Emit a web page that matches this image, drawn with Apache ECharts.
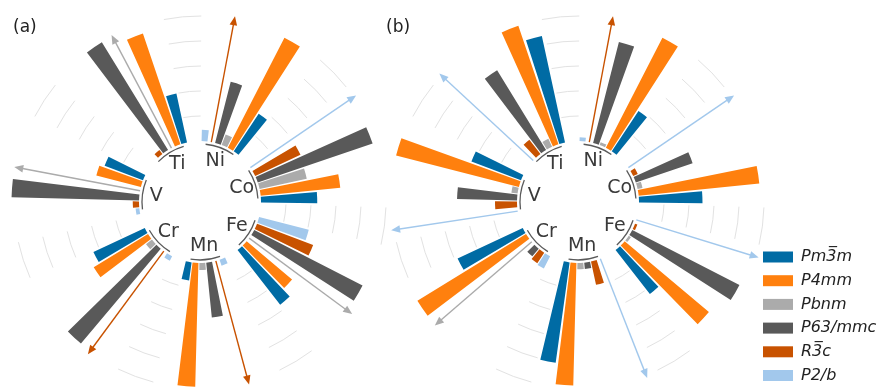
<!DOCTYPE html>
<html>
<head>
<meta charset="utf-8">
<script src="https://cdn.jsdelivr.net/npm/echarts@6/dist/echarts.min.js"></script>
<style>
  html, body { margin: 0; background: #fff; }
  #chart { width: 885px; height: 388px; }
</style>
</head>
<body>
<div id="chart"></div>
<script>
const OFF = 'off'; // value beyond the axis, drawn as an arrow

const elements = ['Ti', 'Ni', 'Co', 'Fe', 'Mn', 'Cr', 'V'];
const phases = ['Pm3\u0305m', 'P4mm', 'Pbnm', 'P63/mmc', 'R3\u0305c', 'P2/b'];
const colors = ['#006BA4', '#FF800E', '#ABABAB', '#595959', '#C85200', '#A2C8EC'];
// clockwise slot of each phase inside an element group (8 slots: 6 bars + 2 empty)
const slotOf = [5, 4, 3, 2, 1, 0];
const gridSteps = [1, 2, 3, 4, 5];

// panel (a), bar length in grid steps
const aPm3m = [2.0, 1.8, 2.25, 2.77, 0.73, 2.27, 1.64];
const aP4mm = [4.68, 4.95, 3.2, 2.37, 4.95, 2.55, 1.84];
const aPbnm = [OFF, 0.45, 1.93, OFF, 0.28, 0.3, OFF];
const aP63 = [5.06, 2.52, 4.85, 4.87, 2.2, 4.96, 5.1];
const aR3c = [0.2, OFF, 2.0, 2.4, OFF, OFF, 0.25];
const aP2b = [0, 0.45, OFF, 2.05, 0.25, 0.2, 0.15];

// panel (b)
const bPm3m = [4.36, 1.93, 2.54, 2.23, 4.05, 2.88, 2.12];
const bP4mm = [5.0, 4.95, 4.85, 4.4, 4.9, 5.1, 5.07];
const bPbnm = [0.35, 0.12, 0.2, 0.1, 0.25, OFF, 0.25];
const bP63 = [3.74, 4.17, 2.4, 4.82, 0.25, 0.4, 2.4];
const bR3c = [0.72, OFF, 0.2, 0.1, 0.95, 0.5, 0.88];
const bP2b = [OFF, 0.15, OFF, OFF, OFF, 0.55, OFF];

const ARROW_TO = 5.12;
const SLOTS = 8;
const N = elements.length * SLOTS;
const STEP = 2 * Math.PI / N;

const chart = echarts.init(document.getElementById('chart'));

function polarAngle(cs, pt) {
    return Math.atan2(pt[1] - cs.cy, pt[0] - cs.cx);
}
function polarDist(cs, pt) {
    return Math.hypot(pt[0] - cs.cx, pt[1] - cs.cy);
}

function panelSeries(polarIndex, values) {
    const out = [];
    const arrows = [];
    phases.forEach((name, p) => {
        const data = new Array(N).fill('-');
        values[p].forEach((v, k) => {
            const slot = k * SLOTS + slotOf[p];
            if (v === OFF) arrows.push([ARROW_TO, slot, p]);
            else data[slot] = v;
        });
        out.push({
            type: 'bar',
            name: name,
            coordinateSystem: 'polar',
            polarIndex: polarIndex,
            data: data,
            barGap: '-100%',
            barCategoryGap: '14%',
            itemStyle: { color: colors[p] },
            z: 3
        });
    });

    // light grid arcs, only in the empty slots between groups
    const gridData = [];
    elements.forEach((e, k) => gridSteps.forEach(g => gridData.push([g, k * SLOTS + 6])));
    out.push({
        type: 'custom',
        coordinateSystem: 'polar',
        polarIndex: polarIndex,
        data: gridData,
        z: 1,
        silent: true,
        renderItem: (params, api) => {
            const cs = params.coordSys;
            const pt = api.coord([api.value(0), api.value(1)]);
            const a = polarAngle(cs, pt);
            return {
                type: 'arc',
                shape: { cx: cs.cx, cy: cs.cy, r: polarDist(cs, pt), startAngle: a - 0.4 * STEP, endAngle: a + 1.4 * STEP, clockwise: true },
                style: { fill: 'none', stroke: '#e2e2e2', lineWidth: 1 }
            };
        }
    });

    // base arcs and element labels
    out.push({
        type: 'custom',
        coordinateSystem: 'polar',
        polarIndex: polarIndex,
        data: elements.map((e, k) => [0, k * SLOTS]),
        z: 4,
        silent: true,
        renderItem: (params, api) => {
            const cs = params.coordSys;
            const pt = api.coord([api.value(0), api.value(1)]);
            const a = polarAngle(cs, pt);
            const r0 = polarDist(cs, pt);
            const mid = a + 2.5 * STEP;
            const rl = r0 - 17;
            return {
                type: 'group',
                children: [
                    {
                        type: 'arc',
                        shape: { cx: cs.cx, cy: cs.cy, r: r0 - 3, startAngle: a + 0.2 * STEP, endAngle: a + 4.8 * STEP, clockwise: true },
                        style: { fill: 'none', stroke: '#5a5a5a', lineWidth: 1.3 }
                    },
                    {
                        type: 'text',
                        x: cs.cx + rl * Math.cos(mid),
                        y: cs.cy + rl * Math.sin(mid),
                        style: {
                            text: elements[params.dataIndex],
                            fill: '#3a3a3a',
                            font: '19px "DejaVu Sans"',
                            align: 'center',
                            verticalAlign: 'middle'
                        }
                    }
                ]
            };
        }
    });

    // off-scale values as arrows
    out.push({
        type: 'custom',
        coordinateSystem: 'polar',
        polarIndex: polarIndex,
        data: arrows,
        z: 3,
        silent: true,
        renderItem: (params, api) => {
            const slot = api.value(1);
            const col = colors[api.value(2)];
            const p0 = api.coord([0, slot]);
            const p1 = api.coord([api.value(0), slot]);
            const dx = p1[0] - p0[0], dy = p1[1] - p0[1];
            const L = Math.hypot(dx, dy);
            const ux = dx / L, uy = dy / L;
            const head = 9, hw = 3.8;
            const bx = p1[0] - ux * head, by = p1[1] - uy * head;
            return {
                type: 'group',
                children: [
                    { type: 'line', shape: { x1: p0[0], y1: p0[1], x2: bx + ux * 2, y2: by + uy * 2 }, style: { stroke: col, lineWidth: 1.4 } },
                    { type: 'polygon', shape: { points: [[p1[0], p1[1]], [bx - uy * hw, by + ux * hw], [bx + uy * hw, by - ux * hw]] }, style: { fill: col } }
                ]
            };
        }
    });
    return out;
}

const slotNames = Array.from({ length: N }, (_, i) => String(i));
const hidden = { axisLine: { show: false }, axisTick: { show: false }, axisLabel: { show: false }, splitLine: { show: false }, splitArea: { show: false } };

const option = {
    animation: false,
    backgroundColor: '#fff',
    title: [
        { text: '(a)', left: 13, top: 19, padding: 0, textStyle: { fontFamily: 'DejaVu Sans', fontSize: 17, fontWeight: 'normal', color: '#222' } },
        { text: '(b)', left: 386, top: 19, padding: 0, textStyle: { fontFamily: 'DejaVu Sans', fontSize: 17, fontWeight: 'normal', color: '#222' } }
    ],
    legend: {
        data: phases,
        orient: 'vertical',
        left: 763,
        top: 249,
        padding: 0,
        itemWidth: 30,
        itemHeight: 11,
        itemGap: 7.7,
        icon: 'rect',
        selectedMode: false,
        textStyle: { fontFamily: 'DejaVu Sans', fontStyle: 'italic', fontSize: 16, color: '#222', padding: [0, 0, 0, 3] }
    },
    polar: [
        { center: [200, 202], radius: [61, 191] },
        { center: [578, 202], radius: [61, 191] }
    ],
    angleAxis: [
        Object.assign({ type: 'category', data: slotNames, polarIndex: 0, startAngle: 140.4, clockwise: true }, hidden),
        Object.assign({ type: 'category', data: slotNames, polarIndex: 1, startAngle: 140.4, clockwise: true }, hidden)
    ],
    radiusAxis: [
        Object.assign({ type: 'value', polarIndex: 0, min: 0, max: 5.2 }, hidden),
        Object.assign({ type: 'value', polarIndex: 1, min: 0, max: 5.2 }, hidden)
    ],
    series: [
        ...panelSeries(0, [aPm3m, aP4mm, aPbnm, aP63, aR3c, aP2b]),
        ...panelSeries(1, [bPm3m, bP4mm, bPbnm, bP63, bR3c, bP2b])
    ]
};

chart.setOption(option);
</script>
</body>
</html>
